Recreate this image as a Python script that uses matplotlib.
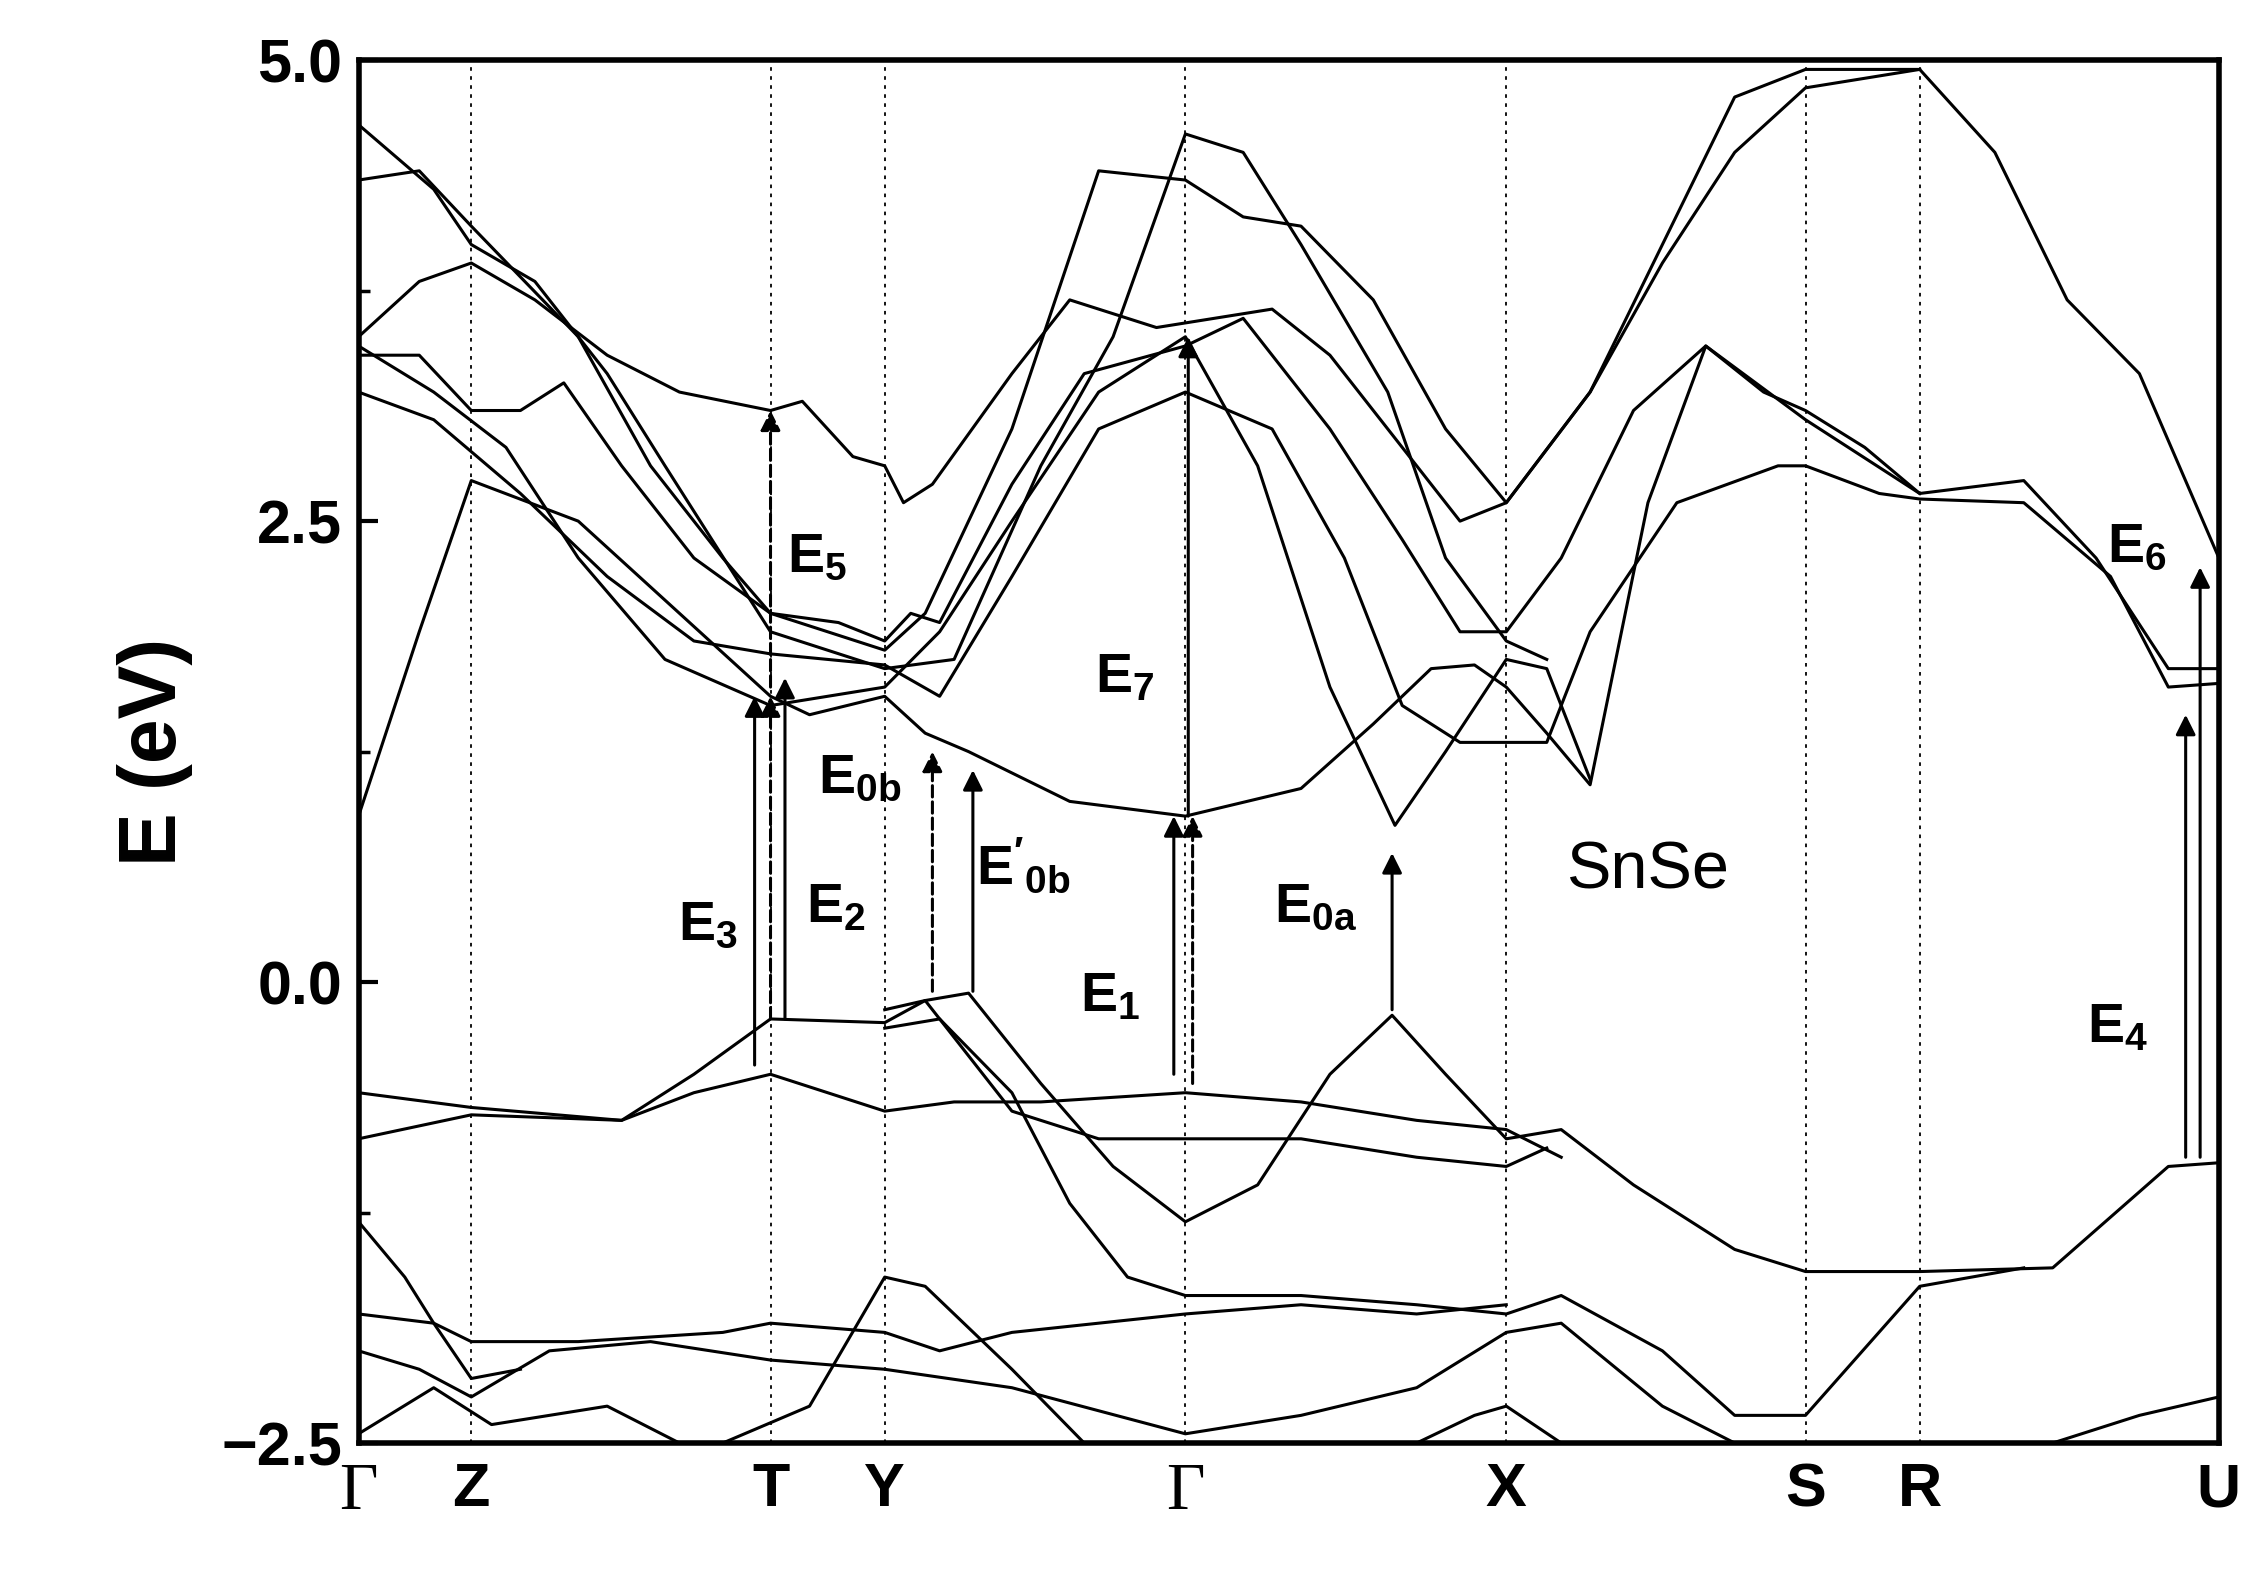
import matplotlib
matplotlib.use("Agg")
import matplotlib.pyplot as plt
from matplotlib.ticker import MultipleLocator

plt.rcParams["font.family"] = ["Liberation Sans", "DejaVu Sans"]
plt.rcParams["mathtext.fontset"] = "custom"
plt.rcParams["mathtext.bf"] = "Liberation Sans:bold"
plt.rcParams["mathtext.rm"] = "Liberation Sans"
plt.rcParams["mathtext.it"] = "Liberation Sans:bold"

# high-symmetry points (k-path coordinate, arbitrary units)
kpts = [248, 326, 533, 612, 820, 1042, 1249, 1328, 1535]
klabels = ["Γ", "Z", "T", "Y", "Γ", "X", "S", "R", "U"]

# bands: (k, E) knots
bands = [
    # conduction
    [(248,0.9),(290,1.9),(326,2.72),(400,2.5),(470,2.0),(533,1.55),(560,1.45),(612,1.55),
     (640,1.35),(670,1.25),(740,0.98),(820,0.9),(900,1.05),(950,1.4),(990,1.7),(1020,1.72),
     (1042,1.6),(1070,1.35),(1100,1.07),(1140,2.6),(1180,3.45),(1220,3.2),(1249,3.1),
     (1290,2.9),(1328,2.65),(1400,2.72),(1450,2.3),(1500,1.7),(1535,1.7)],
    [(248,3.2),(300,3.05),(360,2.65),(420,2.2),(480,1.85),(533,1.78),(612,1.72),(650,1.55),
     (700,2.2),(760,3.0),(820,3.2),(880,3.0),(930,2.3),(970,1.5),(1010,1.3),(1042,1.3),
     (1070,1.3),(1100,1.9),(1160,2.6),(1230,2.8),(1249,2.8),(1300,2.65),(1328,2.62),
     (1400,2.6),(1460,2.2),(1500,1.6),(1535,1.62)],
    [(248,3.4),(290,3.4),(326,3.1),(360,3.1),(390,3.25),(430,2.8),(480,2.3),(533,2.0),
     (580,1.95),(612,1.85),(630,2.0),(650,1.95),(700,2.7),(750,3.3),(820,3.45),(860,3.6),
     (920,3.0),(970,2.4),(1010,1.9),(1042,1.9),(1080,2.3),(1130,3.1),(1180,3.45),
     (1249,3.05),(1328,2.65)],
    [(248,3.5),(290,3.8),(326,3.9),(370,3.7),(420,3.4),(470,3.2),(533,3.1),(555,3.15),
     (590,2.85),(612,2.8),(625,2.6),(645,2.7),(700,3.3),(740,3.7),(800,3.55),(840,3.6),
     (880,3.65),(920,3.4),(980,2.8),(1010,2.5),(1042,2.6),(1100,3.2),(1150,3.9),(1200,4.5),
     (1249,4.85),(1328,4.95),(1380,4.5),(1430,3.7),(1480,3.3),(1535,2.3)],
    [(248,4.35),(290,4.4),(326,4.1),(400,3.5),(450,2.8),(500,2.3),(533,2.0),(612,1.8),
     (640,2.0),(700,3.0),(760,4.4),(820,4.35),(860,4.15),(900,4.1),(950,3.7),(1000,3.0),
     (1042,2.6),(1100,3.2),(1150,4.0),(1200,4.8),(1249,4.95),(1328,4.95)],
    [(248,4.65),(300,4.3),(326,4.0),(370,3.8),(420,3.3),(460,2.8),(533,1.9),(612,1.7),
     (660,1.75),(720,2.8),(770,3.5),(820,4.6),(860,4.5),(900,4.0),(960,3.2),(1000,2.3),
     (1042,1.85),(1070,1.75)],
    [(248,3.45),(300,3.2),(350,2.9),(400,2.3),(460,1.75),(533,1.5),(612,1.6),(650,1.9),
     (700,2.5),(760,3.2),(820,3.5),(870,2.8),(920,1.6),(965,0.85),(1000,1.25),(1042,1.75),
     (1070,1.7),(1100,1.1)],
    # valence
    [(248,-0.6),(326,-0.68),(430,-0.75),(480,-0.5),(533,-0.2),(612,-0.22),(640,-0.1),
     (670,-0.06),(720,-0.55),(770,-1.0),(820,-1.3),(870,-1.1),(920,-0.5),(963,-0.18),
     (1000,-0.5),(1042,-0.85),(1080,-0.8),(1130,-1.1),(1200,-1.45),(1249,-1.57),
     (1328,-1.57),(1420,-1.55),(1500,-1.0),(1535,-0.98)],
    [(248,-0.85),(326,-0.72),(430,-0.75),(480,-0.6),(533,-0.5),(612,-0.7),(660,-0.65),
     (720,-0.65),(820,-0.6),(900,-0.65),(980,-0.75),(1042,-0.8),(1080,-0.95)],
    [(612,-0.15),(640,-0.1),(700,-0.7),(760,-0.85),(820,-0.85),(900,-0.85),(980,-0.95),
     (1042,-1.0),(1070,-0.9)],
    [(248,-1.3),(280,-1.6),(300,-1.85),(326,-2.15),(360,-2.1)],
    [(612,-0.25),(650,-0.2),(700,-0.6),(740,-1.2),(780,-1.6),(820,-1.7),(900,-1.7),
     (980,-1.75),(1042,-1.8),(1080,-1.7),(1150,-2.0),(1200,-2.35),(1249,-2.35),
     (1328,-1.65),(1400,-1.55)],
    [(248,-1.8),(300,-1.85),(326,-1.95),(400,-1.95),(500,-1.9),(533,-1.85),(612,-1.9),
     (650,-2.0),(700,-1.9),(760,-1.85),(820,-1.8),(900,-1.75),(980,-1.8),(1042,-1.75)],
    [(248,-2.0),(290,-2.1),(326,-2.25),(380,-2.0),(450,-1.95),(533,-2.05),(612,-2.1),
     (700,-2.2),(820,-2.45),(900,-2.35),(980,-2.2),(1042,-1.9),(1080,-1.85),(1150,-2.3),
     (1200,-2.5)],
    [(500,-2.5),(560,-2.3),(612,-1.6),(640,-1.65),(700,-2.1),(750,-2.5)],
    [(248,-2.45),(300,-2.2),(340,-2.4),(420,-2.3),(470,-2.5)],
    [(980,-2.5),(1020,-2.35),(1042,-2.3),(1080,-2.5)],
    [(1420,-2.5),(1480,-2.35),(1535,-2.25)],
]

# transitions: (k, E_start, E_end, dashed)
arrows = [
    (522, -0.45, 1.55, False), (533, -0.2, 1.55, True), (543, -0.2, 1.65, False),
    (533, 1.6, 3.1, True), (645, -0.05, 1.25, True), (673, -0.05, 1.15, False),
    (812, -0.5, 0.9, False), (825, -0.55, 0.9, True), (822, 0.9, 3.5, False),
    (963, -0.15, 0.7, False), (1512, -0.95, 1.45, False), (1522, -0.95, 2.25, False),
]
labels = [
    (565, 2.3, r"$\mathbf{E_5}$"), (490, 0.3, r"$\mathbf{E_3}$"), (578, 0.4, r"$\mathbf{E_2}$"),
    (595, 1.1, r"$\mathbf{E_{0b}}$"), (708, 0.63, r"$\mathbf{E'_{0b}}$"),
    (768, -0.08, r"$\mathbf{E_1}$"), (778, 1.65, r"$\mathbf{E_7}$"),
    (910, 0.4, r"$\mathbf{E_{0a}}$"), (1478, 2.35, r"$\mathbf{E_6}$"),
    (1465, -0.25, r"$\mathbf{E_4}$"),
]

fig = plt.figure(figsize=(22.55, 15.84), dpi=100)
ax = fig.add_axes([0.159, 0.089, 0.825, 0.873])

for b in bands:
    ax.plot([p[0] for p in b], [p[1] for p in b], color="k", lw=2.2)

for k in kpts[1:-1]:
    ax.axvline(k, color="k", lw=1.3, ls=(0, (2, 3)))

for k, e0, e1, dashed in arrows:
    ax.annotate("", xy=(k, e1), xytext=(k, e0),
                arrowprops=dict(arrowstyle="-|>", lw=2.2, color="k",
                                linestyle="--" if dashed else "-",
                                mutation_scale=30, shrinkA=0, shrinkB=0))

for x, y, s in labels:
    ax.text(x, y, s, fontsize=40, ha="center", va="center")
ax.text(1140, 0.6, "SnSe", fontsize=48, ha="center", va="center")

ax.set_xlim(248, 1535)
ax.set_ylim(-2.5, 5.0)
ax.set_xticks(kpts)
ax.set_xticklabels(klabels, fontsize=44, fontweight="bold")
for t in ax.get_xticklabels():
    if t.get_text() == "Γ":
        t.set_fontfamily("Liberation Serif")
        t.set_fontweight("normal")
        t.set_fontsize(48)
ax.tick_params(axis="x", length=0, pad=14)
ax.yaxis.set_major_locator(MultipleLocator(2.5))
ax.yaxis.set_minor_locator(MultipleLocator(1.25))
ax.set_yticklabels([f"{v:.1f}".replace("-", "\u2212") for v in ax.get_yticks()],
                   fontsize=44, fontweight="bold")
ax.tick_params(axis="y", which="major", direction="in", length=14, width=3, pad=12)
ax.tick_params(axis="y", which="minor", direction="in", length=8, width=2.5)
ax.set_ylabel("E (eV)", fontsize=58, fontweight="bold", labelpad=20)
for s in ax.spines.values():
    s.set_linewidth(4)

fig.savefig("out.png", dpi=100)
